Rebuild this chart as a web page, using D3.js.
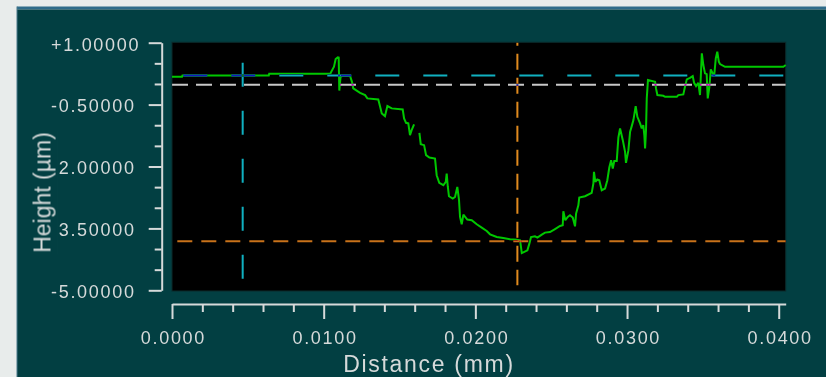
<!DOCTYPE html>
<html>
<head>
<meta charset="utf-8">
<script src="https://cdn.jsdelivr.net/npm/d3@7"></script>
<style>
  html, body { margin: 0; padding: 0; background: #e8eceb; }
  svg { display: block; }
  text { font-family: "Liberation Sans", Arial, sans-serif; fill: #d6dada; }
</style>
</head>
<body>
<div id="chart"></div>
<script>
// profile: distance (mm) / height (µm); null marks a break in the trace
const distance = [
  0.00000, 0.00066, 0.00069, 0.00638, 0.00641, 0.01044, 0.01048, 0.01068, 0.01079, 0.01093,
  0.01099, 0.01103, 0.01111, 0.01121, 0.01174, 0.01187, 0.01195, 0.01240, 0.01273, 0.01288,
  0.01360, 0.01371, 0.01383, 0.01404, 0.01420, 0.01449, 0.01521, 0.01530, 0.01543, 0.01558,
  0.01569, 0.01580, 0.01596, 0.01613, 0.01631, 0.01640, 0.01662, 0.01675, 0.01697, 0.01734,
  0.01745, 0.01762, 0.01789, 0.01805, 0.01811, 0.01818, 0.01826, 0.01851, 0.01866, 0.01881,
  0.01892, 0.01899, 0.01910, 0.01921, 0.01947, 0.01976, 0.02009, 0.02042, 0.02075, 0.02097,
  0.02141, 0.02184, 0.02229, 0.02273, 0.02295, 0.02306, 0.02316, 0.02343, 0.02356, 0.02367,
  0.02393, 0.02409, 0.02438, 0.02459, 0.02492, 0.02525, 0.02558, 0.02576, 0.02580, 0.02593,
  0.02609, 0.02624, 0.02642, 0.02657, 0.02664, 0.02679, 0.02685, 0.02723, 0.02767, 0.02778,
  0.02782, 0.02791, 0.02804, 0.02817, 0.02833, 0.02855, 0.02870, 0.02883, 0.02895, 0.02906,
  0.02916, 0.02932, 0.02943, 0.02954, 0.02972, 0.02987, 0.02993, 0.03009, 0.03020, 0.03031,
  0.03042, 0.03057, 0.03068, 0.03086, 0.03097, 0.03107, 0.03114, 0.03119, 0.03125, 0.03130,
  0.03138, 0.03185, 0.03191, 0.03200, 0.03239, 0.03251, 0.03328, 0.03338, 0.03371, 0.03382,
  0.03394, 0.03415, 0.03433, 0.03442, 0.03455, 0.03470, 0.03481, 0.03493, 0.03503, 0.03514,
  0.03525, 0.03532, 0.03543, 0.03552, 0.03565, 0.03574, 0.03585, 0.03595, 0.03605, 0.03613,
  0.03646, 0.04031, 0.04046
];
const height = [
  0.175, 0.175, 0.205, 0.205, 0.248, 0.248, 0.282, 0.417, 0.604, 0.646,
  0.641, -0.160, 0.167, 0.192, 0.192, 0.046, -0.107, -0.214, -0.269, -0.350,
  -0.374, -0.536, -0.714, -0.779, -0.536, -0.592, -0.617, -0.835, -0.942, -0.956,
  -1.240, -1.119, -0.981, null, -1.185, -1.459, -1.483, -1.726, -1.782, -1.806,
  -2.211, -2.398, -2.454, -2.374, -2.170, -2.478, -2.721, -2.777, -2.738, -2.495,
  -2.801, -3.223, -3.401, -3.165, -3.286, -3.303, -3.401, -3.481, -3.563, -3.643,
  -3.709, -3.733, -3.765, -3.772, -3.789, -4.097, -4.080, -4.032, -3.869, -3.709,
  -3.692, -3.723, -3.650, -3.602, -3.587, -3.515, -3.442, -3.425, -3.085, -3.303,
  -3.223, -3.182, -3.238, -3.449, -3.141, -2.939, -2.752, -2.721, -2.641, -2.413,
  -2.131, -2.374, -2.316, -2.333, -2.575, -2.534, -2.333, -2.024, -1.847, -2.049,
  -1.864, -1.864, -1.296, -1.078, -1.362, -1.646, -1.913, -1.604, -1.160, -1.022,
  -0.876, -0.536, -0.796, -0.956, -1.078, -0.998, -1.240, -1.563, -1.119, -0.350,
  0.095, 0.053, -0.107, -0.269, -0.286, -0.311, -0.311, -0.269, -0.252, -0.068,
  0.112, 0.150, 0.192, 0.029, -0.051, 0.029, -0.269, 0.743, 0.459, 0.257,
  0.240, -0.350, -0.068, 0.354, 0.257, 0.175, 0.621, 0.782, 0.539, 0.483,
  0.417, 0.417, 0.459
];

const xDomain = [0, 0.04046];
const yDomain = [-5, 1];
const xTicks = [0, 0.01, 0.02, 0.03, 0.04];
const xTickLabels = ['0.0000', '0.0100', '0.0200', '0.0300', '0.0400'];
const yTicks = [1, -0.5, -2, -3.5, -5];
const yTickLabels = ['+1.00000', '-0.50000', '-2.00000', '-3.50000', '-5.00000'];

// measurement cursors, in data units
const cursorX1 = [0, 0, 0.00466, 0.02277, 0.00035];
const cursorX2 = [0.04046, 0.04046, 0.00466, 0.02277, 0.04046];
const cursorY1 = [-0.02, 0.205, 0.515, 1, -3.813];
const cursorY2 = [-0.02, 0.205, -4.743, -4.88, -3.813];

const cursorStyle = [
  { color: '#c8c8c8', dash: '16 8', offset: 0 },
  { color: '#10b0c0', dash: '24 24', offset: 36.7 },
  { color: '#10b0c0', dash: '24 24', offset: 0 },
  { color: '#e08a1e', dash: '16 8', offset: 13 },
  { color: '#c8721a', dash: '15 9', offset: 0 }
];

const W = 826, H = 377;
const PANEL = '#023f42';
const AXIS = '#d6dada';

const svg = d3.select('#chart').append('svg')
  .attr('width', W)
  .attr('height', H);

// window frame
svg.append('rect').attr('width', W).attr('height', H).attr('fill', '#e8eceb');
svg.append('rect').attr('x', 17).attr('y', 6.5).attr('width', W - 17).attr('height', 3).attr('fill', '#2f6c8a');
svg.append('rect').attr('x', 17).attr('y', 9.5).attr('width', W - 17).attr('height', H - 9.5).attr('fill', PANEL);
svg.append('rect').attr('x', 16.5).attr('y', 6.5).attr('width', 1).attr('height', H).attr('fill', '#4a7a8c');

const x = d3.scaleLinear().domain(xDomain).range([172, 785.7]);
const y = d3.scaleLinear().domain(yDomain).range([290.3, 42.7]);

// plot area
svg.append('rect')
  .attr('x', x(xDomain[0])).attr('y', 42.3)
  .attr('width', x(xDomain[1]) - x(xDomain[0])).attr('height', 248.7)
  .attr('fill', '#000')
  .attr('stroke', '#0b2a2b').attr('stroke-width', 1);

const profile = distance.map((d, i) => ({ d, h: height[i] }));

const line = d3.line()
  .defined(p => p.h !== null)
  .x(p => x(p.d))
  .y(p => y(p.h));

svg.append('path')
  .datum(profile)
  .attr('d', line)
  .attr('fill', 'none')
  .attr('stroke', '#00c800')
  .attr('stroke-width', 2)
  .attr('stroke-miterlimit', 2);

// cursors are xor-drawn in the original, difference gives the same look
svg.append('g')
  .selectAll('line')
  .data(cursorX1.map((v, i) => i))
  .join('line')
  .attr('x1', i => x(cursorX1[i]))
  .attr('x2', i => x(cursorX2[i]))
  .attr('y1', i => y(cursorY1[i]))
  .attr('y2', i => y(cursorY2[i]))
  .attr('stroke', i => cursorStyle[i].color)
  .attr('stroke-width', 2)
  .attr('stroke-dasharray', i => cursorStyle[i].dash)
  .attr('stroke-dashoffset', i => cursorStyle[i].offset)
  .style('mix-blend-mode', 'difference');

// Y axis
const yAxisG = svg.append('g').attr('transform', 'translate(161.7,0)');
yAxisG.call(
  d3.axisLeft(y).tickValues(yTicks).tickSize(13).tickSizeOuter(0)
    .tickFormat((d, i) => yTickLabels[i])
);
const yMinor = d3.range(-5, 1.01, 0.5).filter(v => !yTicks.some(t => Math.abs(t - v) < 1e-9));
yAxisG.append('g').call(
  d3.axisLeft(y).tickValues(yMinor).tickSize(7).tickSizeOuter(0).tickFormat('')
).select('.domain').remove();

yAxisG.selectAll('text')
  .attr('x', 51 - 161.7)
  .attr('dy', null)
  .attr('y', 7.3)
  .attr('text-anchor', 'start')
  .attr('font-size', 18)
  .style('letter-spacing', '1.7px');

// X axis
const xAxisG = svg.append('g').attr('transform', 'translate(0,304)');
xAxisG.call(
  d3.axisBottom(x).tickValues(xTicks).tickSize(15).tickSizeOuter(0)
    .tickFormat((d, i) => xTickLabels[i])
);
const xMinor = d3.range(0, 0.0401, 0.002).filter(v => !xTicks.some(t => Math.abs(t - v) < 1e-9));
xAxisG.append('g').call(
  d3.axisBottom(x).tickValues(xMinor).tickSize(8).tickSizeOuter(0).tickFormat('')
).select('.domain').remove();

xAxisG.selectAll('text')
  .attr('y', 40)
  .attr('dy', null)
  .attr('dx', 0.9)
  .attr('font-size', 18)
  .style('letter-spacing', '1.7px');

svg.selectAll('.domain, .tick line')
  .attr('stroke', AXIS)
  .attr('stroke-width', 2);
svg.selectAll('.tick text').attr('fill', AXIS);

// axis titles
const yTitle = svg.append('g').attr('transform', 'translate(50.5,192.5) rotate(-90)');
const yTitleText = yTitle.append('text')
  .attr('text-anchor', 'middle')
  .attr('font-size', 23)
  .text('Height (µm)');
const bb = yTitleText.node().getBBox();
yTitle.insert('rect', 'text')
  .attr('x', bb.x - 2).attr('y', bb.y - 2)
  .attr('width', bb.width + 4).attr('height', bb.height + 4.8)
  .attr('fill', PANEL);

svg.append('text')
  .attr('x', 429)
  .attr('y', 371.5)
  .attr('text-anchor', 'middle')
  .attr('font-size', 23)
  .style('letter-spacing', '1.7px')
  .text('Distance (mm)');
</script>
</body>
</html>
